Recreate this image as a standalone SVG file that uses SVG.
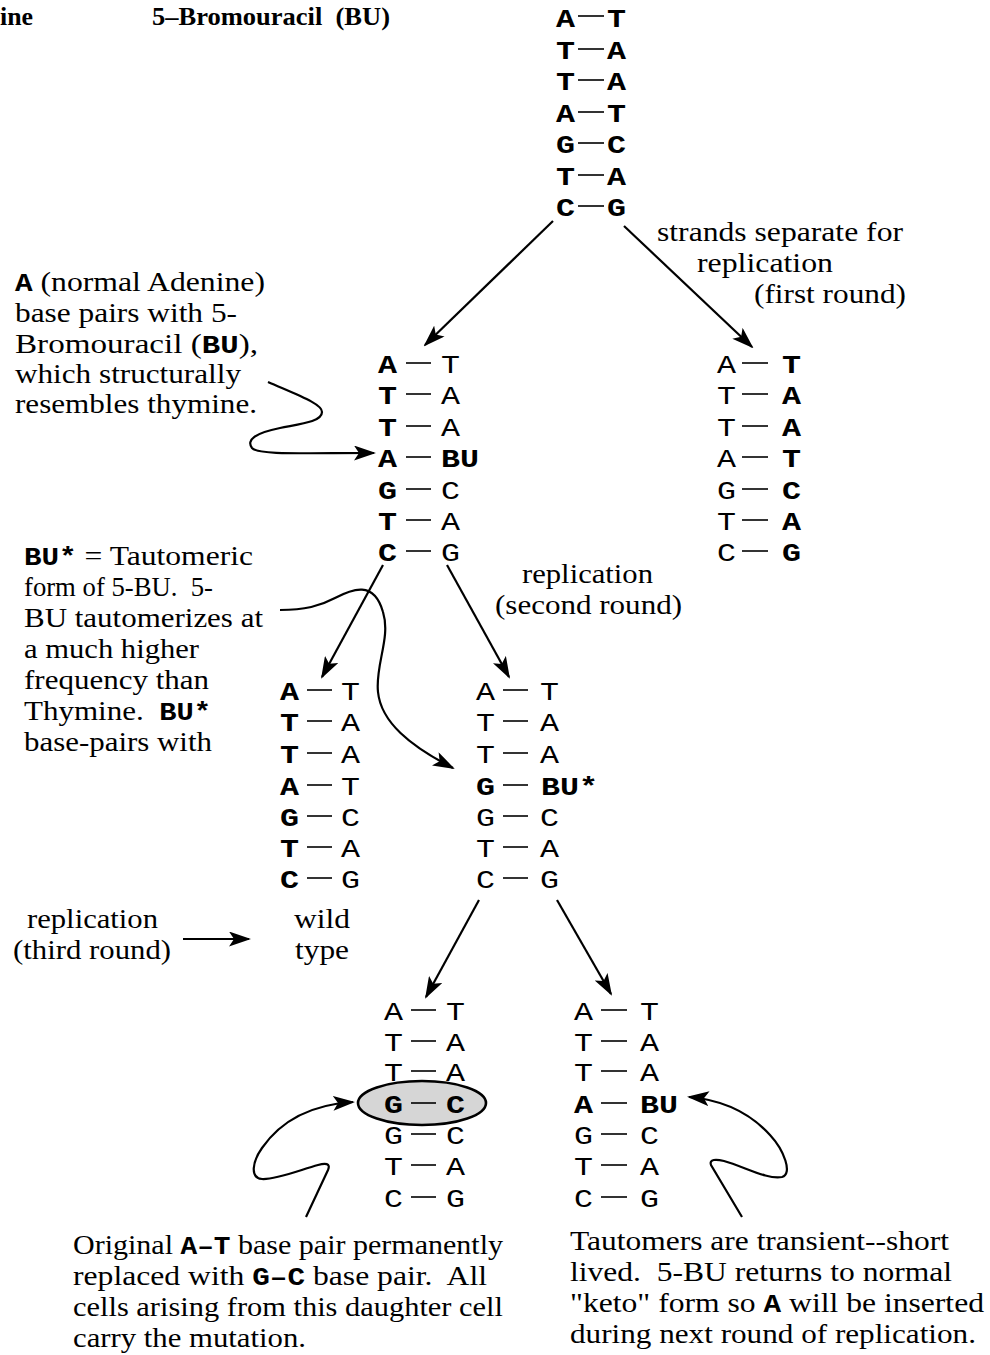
<svg xmlns="http://www.w3.org/2000/svg" width="990" height="1355" viewBox="0 0 990 1355">
  <style>
    .t { font-family: "Liberation Serif", "Times New Roman", serif; font-size: 27px; fill: #000; }
    .tb { font-family: "Liberation Serif", "Times New Roman", serif; font-size: 26px; font-weight: bold; fill: #000; }
    .m { font-family: "Liberation Mono", "Courier New", monospace; font-size: 25px; fill: #000; }
    .mb { font-family: "Liberation Mono", "Courier New", monospace; font-size: 25px; font-weight: bold; fill: #000; }
    .bond { stroke: #000; stroke-width: 1.6; }
    .arr { fill: none; stroke: #000; stroke-width: 2.2; marker-end: url(#ah); }
  </style>
  <defs>
    <marker id="ah" viewBox="0 0 22 15" refX="20" refY="7.5" markerWidth="22" markerHeight="15" markerUnits="userSpaceOnUse" orient="auto">
      <path d="M0,0 L22,7.5 L0,15 L5,7.5 Z" fill="#000"/>
    </marker>
  </defs>
  <rect width="990" height="1355" fill="#fff"/>

  <!-- headings -->
  <g id="headings">
    <text class="tb" x="0" y="25" textLength="33" lengthAdjust="spacingAndGlyphs">ine</text>
    <text class="tb" x="152" y="25" textLength="238" lengthAdjust="spacingAndGlyphs" xml:space="preserve">5–Bromouracil  (BU)</text>
  </g>

  <!-- parent duplex -->
  <g id="parent">
    <g class="mb">
      <text x="556" y="27" textLength="19" lengthAdjust="spacingAndGlyphs">A</text><text x="607" y="27" textLength="19" lengthAdjust="spacingAndGlyphs">T</text>
      <text x="556" y="59" textLength="19" lengthAdjust="spacingAndGlyphs">T</text><text x="607" y="59" textLength="19" lengthAdjust="spacingAndGlyphs">A</text>
      <text x="556" y="90" textLength="19" lengthAdjust="spacingAndGlyphs">T</text><text x="607" y="90" textLength="19" lengthAdjust="spacingAndGlyphs">A</text>
      <text x="556" y="122" textLength="19" lengthAdjust="spacingAndGlyphs">A</text><text x="607" y="122" textLength="19" lengthAdjust="spacingAndGlyphs">T</text>
      <text x="556" y="153" textLength="19" lengthAdjust="spacingAndGlyphs">G</text><text x="607" y="153" textLength="19" lengthAdjust="spacingAndGlyphs">C</text>
      <text x="556" y="185" textLength="19" lengthAdjust="spacingAndGlyphs">T</text><text x="607" y="185" textLength="19" lengthAdjust="spacingAndGlyphs">A</text>
      <text x="556" y="216" textLength="19" lengthAdjust="spacingAndGlyphs">C</text><text x="607" y="216" textLength="19" lengthAdjust="spacingAndGlyphs">G</text>
    </g>
    <g class="bond">
      <line x1="578" y1="16" x2="604" y2="16"/><line x1="578" y1="49" x2="604" y2="49"/>
      <line x1="578" y1="80" x2="604" y2="80"/><line x1="578" y1="112" x2="604" y2="112"/>
      <line x1="578" y1="143" x2="604" y2="143"/><line x1="578" y1="175" x2="604" y2="175"/>
      <line x1="578" y1="206" x2="604" y2="206"/>
    </g>
  </g>

  <!-- first-round daughter carrying BU -->
  <g id="daughter-bu">
    <g class="mb">
      <text x="378" y="373" textLength="19" lengthAdjust="spacingAndGlyphs">A</text>
      <text x="378" y="404" textLength="19" lengthAdjust="spacingAndGlyphs">T</text>
      <text x="378" y="436" textLength="19" lengthAdjust="spacingAndGlyphs">T</text>
      <text x="378" y="467" textLength="19" lengthAdjust="spacingAndGlyphs">A</text>
      <text x="378" y="499" textLength="19" lengthAdjust="spacingAndGlyphs">G</text>
      <text x="378" y="530" textLength="19" lengthAdjust="spacingAndGlyphs">T</text>
      <text x="378" y="561" textLength="19" lengthAdjust="spacingAndGlyphs">C</text>
      <text x="441" y="467" textLength="38" lengthAdjust="spacingAndGlyphs">BU</text>
    </g>
    <g class="m">
      <text x="441" y="373" textLength="19" lengthAdjust="spacingAndGlyphs">T</text>
      <text x="441" y="404" textLength="19" lengthAdjust="spacingAndGlyphs">A</text>
      <text x="441" y="436" textLength="19" lengthAdjust="spacingAndGlyphs">A</text>
      <text x="441" y="499" textLength="19" lengthAdjust="spacingAndGlyphs">C</text>
      <text x="441" y="530" textLength="19" lengthAdjust="spacingAndGlyphs">A</text>
      <text x="441" y="561" textLength="19" lengthAdjust="spacingAndGlyphs">G</text>
    </g>
    <g class="bond">
      <line x1="406" y1="363" x2="431" y2="363"/><line x1="406" y1="394" x2="431" y2="394"/>
      <line x1="406" y1="426" x2="431" y2="426"/><line x1="406" y1="457" x2="431" y2="457"/>
      <line x1="406" y1="489" x2="431" y2="489"/><line x1="406" y1="520" x2="431" y2="520"/>
      <line x1="406" y1="551" x2="431" y2="551"/>
    </g>
  </g>

  <!-- first-round normal daughter -->
  <g id="daughter-normal">
    <g class="m">
      <text x="717" y="373" textLength="19" lengthAdjust="spacingAndGlyphs">A</text>
      <text x="717" y="404" textLength="19" lengthAdjust="spacingAndGlyphs">T</text>
      <text x="717" y="436" textLength="19" lengthAdjust="spacingAndGlyphs">T</text>
      <text x="717" y="467" textLength="19" lengthAdjust="spacingAndGlyphs">A</text>
      <text x="717" y="499" textLength="19" lengthAdjust="spacingAndGlyphs">G</text>
      <text x="717" y="530" textLength="19" lengthAdjust="spacingAndGlyphs">T</text>
      <text x="717" y="561" textLength="19" lengthAdjust="spacingAndGlyphs">C</text>
    </g>
    <g class="mb">
      <text x="782" y="373" textLength="19" lengthAdjust="spacingAndGlyphs">T</text>
      <text x="782" y="404" textLength="19" lengthAdjust="spacingAndGlyphs">A</text>
      <text x="782" y="436" textLength="19" lengthAdjust="spacingAndGlyphs">A</text>
      <text x="782" y="467" textLength="19" lengthAdjust="spacingAndGlyphs">T</text>
      <text x="782" y="499" textLength="19" lengthAdjust="spacingAndGlyphs">C</text>
      <text x="782" y="530" textLength="19" lengthAdjust="spacingAndGlyphs">A</text>
      <text x="782" y="561" textLength="19" lengthAdjust="spacingAndGlyphs">G</text>
    </g>
    <g class="bond">
      <line x1="742" y1="363" x2="768" y2="363"/><line x1="742" y1="394" x2="768" y2="394"/>
      <line x1="742" y1="426" x2="768" y2="426"/><line x1="742" y1="457" x2="768" y2="457"/>
      <line x1="742" y1="489" x2="768" y2="489"/><line x1="742" y1="520" x2="768" y2="520"/>
      <line x1="742" y1="551" x2="768" y2="551"/>
    </g>
  </g>

  <!-- second round: wild type -->
  <g id="wild-type">
    <g class="mb">
      <text x="280" y="700" textLength="19" lengthAdjust="spacingAndGlyphs">A</text>
      <text x="280" y="731" textLength="19" lengthAdjust="spacingAndGlyphs">T</text>
      <text x="280" y="763" textLength="19" lengthAdjust="spacingAndGlyphs">T</text>
      <text x="280" y="795" textLength="19" lengthAdjust="spacingAndGlyphs">A</text>
      <text x="280" y="826" textLength="19" lengthAdjust="spacingAndGlyphs">G</text>
      <text x="280" y="857" textLength="19" lengthAdjust="spacingAndGlyphs">T</text>
      <text x="280" y="888" textLength="19" lengthAdjust="spacingAndGlyphs">C</text>
    </g>
    <g class="m">
      <text x="341" y="700" textLength="19" lengthAdjust="spacingAndGlyphs">T</text>
      <text x="341" y="731" textLength="19" lengthAdjust="spacingAndGlyphs">A</text>
      <text x="341" y="763" textLength="19" lengthAdjust="spacingAndGlyphs">A</text>
      <text x="341" y="795" textLength="19" lengthAdjust="spacingAndGlyphs">T</text>
      <text x="341" y="826" textLength="19" lengthAdjust="spacingAndGlyphs">C</text>
      <text x="341" y="857" textLength="19" lengthAdjust="spacingAndGlyphs">A</text>
      <text x="341" y="888" textLength="19" lengthAdjust="spacingAndGlyphs">G</text>
    </g>
    <g class="bond">
      <line x1="307" y1="690" x2="332" y2="690"/><line x1="307" y1="721" x2="332" y2="721"/>
      <line x1="307" y1="753" x2="332" y2="753"/><line x1="307" y1="785" x2="332" y2="785"/>
      <line x1="307" y1="816" x2="332" y2="816"/><line x1="307" y1="847" x2="332" y2="847"/>
      <line x1="307" y1="878" x2="332" y2="878"/>
    </g>
  </g>

  <!-- second round: tautomer mispair -->
  <g id="mispair">
    <g class="m">
      <text x="476" y="700" textLength="19" lengthAdjust="spacingAndGlyphs">A</text>
      <text x="476" y="731" textLength="19" lengthAdjust="spacingAndGlyphs">T</text>
      <text x="476" y="763" textLength="19" lengthAdjust="spacingAndGlyphs">T</text>
      <text x="476" y="826" textLength="19" lengthAdjust="spacingAndGlyphs">G</text>
      <text x="476" y="857" textLength="19" lengthAdjust="spacingAndGlyphs">T</text>
      <text x="476" y="888" textLength="19" lengthAdjust="spacingAndGlyphs">C</text>
      <text x="540" y="700" textLength="19" lengthAdjust="spacingAndGlyphs">T</text>
      <text x="540" y="731" textLength="19" lengthAdjust="spacingAndGlyphs">A</text>
      <text x="540" y="763" textLength="19" lengthAdjust="spacingAndGlyphs">A</text>
      <text x="540" y="826" textLength="19" lengthAdjust="spacingAndGlyphs">C</text>
      <text x="540" y="857" textLength="19" lengthAdjust="spacingAndGlyphs">A</text>
      <text x="540" y="888" textLength="19" lengthAdjust="spacingAndGlyphs">G</text>
    </g>
    <g class="mb">
      <text x="476" y="795" textLength="19" lengthAdjust="spacingAndGlyphs">G</text>
      <text x="541" y="795" textLength="57" lengthAdjust="spacingAndGlyphs">BU*</text>
    </g>
    <g class="bond">
      <line x1="503" y1="690" x2="528" y2="690"/><line x1="503" y1="721" x2="528" y2="721"/>
      <line x1="503" y1="753" x2="528" y2="753"/><line x1="503" y1="785" x2="528" y2="785"/>
      <line x1="503" y1="816" x2="528" y2="816"/><line x1="503" y1="847" x2="528" y2="847"/>
      <line x1="503" y1="878" x2="528" y2="878"/>
    </g>
  </g>

  <!-- third round: mutant G-C -->
  <g id="mutant">
    <g class="m">
      <text x="384" y="1020" textLength="19" lengthAdjust="spacingAndGlyphs">A</text>
      <text x="384" y="1051" textLength="19" lengthAdjust="spacingAndGlyphs">T</text>
      <text x="384" y="1081" textLength="19" lengthAdjust="spacingAndGlyphs">T</text>
      <text x="384" y="1144" textLength="19" lengthAdjust="spacingAndGlyphs">G</text>
      <text x="384" y="1175" textLength="19" lengthAdjust="spacingAndGlyphs">T</text>
      <text x="384" y="1207" textLength="19" lengthAdjust="spacingAndGlyphs">C</text>
      <text x="446" y="1020" textLength="19" lengthAdjust="spacingAndGlyphs">T</text>
      <text x="446" y="1051" textLength="19" lengthAdjust="spacingAndGlyphs">A</text>
      <text x="446" y="1081" textLength="19" lengthAdjust="spacingAndGlyphs">A</text>
      <text x="446" y="1144" textLength="19" lengthAdjust="spacingAndGlyphs">C</text>
      <text x="446" y="1175" textLength="19" lengthAdjust="spacingAndGlyphs">A</text>
      <text x="446" y="1207" textLength="19" lengthAdjust="spacingAndGlyphs">G</text>
    </g>
    <g class="bond">
      <line x1="411" y1="1010" x2="436" y2="1010"/><line x1="411" y1="1041" x2="436" y2="1041"/>
      <line x1="411" y1="1071" x2="436" y2="1071"/>
      <line x1="411" y1="1134" x2="436" y2="1134"/><line x1="411" y1="1165" x2="436" y2="1165"/>
      <line x1="411" y1="1197" x2="436" y2="1197"/>
    </g>
    <ellipse cx="422" cy="1103" rx="64" ry="22" fill="#d6d6d6" stroke="#000" stroke-width="2.6"/>
    <text class="mb" x="384" y="1113" textLength="19" lengthAdjust="spacingAndGlyphs">G</text>
    <text class="mb" x="446" y="1113" textLength="19" lengthAdjust="spacingAndGlyphs">C</text>
    <line class="bond" x1="411" y1="1103" x2="436" y2="1103"/>
  </g>

  <!-- third round: BU back in keto form -->
  <g id="reverted">
    <g class="m">
      <text x="574" y="1020" textLength="19" lengthAdjust="spacingAndGlyphs">A</text>
      <text x="574" y="1051" textLength="19" lengthAdjust="spacingAndGlyphs">T</text>
      <text x="574" y="1081" textLength="19" lengthAdjust="spacingAndGlyphs">T</text>
      <text x="574" y="1144" textLength="19" lengthAdjust="spacingAndGlyphs">G</text>
      <text x="574" y="1175" textLength="19" lengthAdjust="spacingAndGlyphs">T</text>
      <text x="574" y="1207" textLength="19" lengthAdjust="spacingAndGlyphs">C</text>
      <text x="640" y="1020" textLength="19" lengthAdjust="spacingAndGlyphs">T</text>
      <text x="640" y="1051" textLength="19" lengthAdjust="spacingAndGlyphs">A</text>
      <text x="640" y="1081" textLength="19" lengthAdjust="spacingAndGlyphs">A</text>
      <text x="640" y="1144" textLength="19" lengthAdjust="spacingAndGlyphs">C</text>
      <text x="640" y="1175" textLength="19" lengthAdjust="spacingAndGlyphs">A</text>
      <text x="640" y="1207" textLength="19" lengthAdjust="spacingAndGlyphs">G</text>
    </g>
    <g class="mb">
      <text x="574" y="1113" textLength="19" lengthAdjust="spacingAndGlyphs">A</text>
      <text x="640" y="1113" textLength="38" lengthAdjust="spacingAndGlyphs">BU</text>
    </g>
    <g class="bond">
      <line x1="601" y1="1010" x2="627" y2="1010"/><line x1="601" y1="1041" x2="627" y2="1041"/>
      <line x1="601" y1="1071" x2="627" y2="1071"/><line x1="601" y1="1103" x2="627" y2="1103"/>
      <line x1="601" y1="1134" x2="627" y2="1134"/><line x1="601" y1="1165" x2="627" y2="1165"/>
      <line x1="601" y1="1197" x2="627" y2="1197"/>
    </g>
  </g>

  <!-- annotations -->
  <g id="note-first-round">
    <text class="t" x="657" y="241" textLength="246" lengthAdjust="spacingAndGlyphs">strands separate for</text>
    <text class="t" x="697" y="272" textLength="136" lengthAdjust="spacingAndGlyphs">replication</text>
    <text class="t" x="754" y="303" textLength="152" lengthAdjust="spacingAndGlyphs">(first round)</text>
  </g>
  <g id="note-adenine">
    <text class="t" x="15" y="291" textLength="250" lengthAdjust="spacingAndGlyphs"><tspan class="mb">A</tspan> (normal Adenine)</text>
    <text class="t" x="15" y="322" textLength="222" lengthAdjust="spacingAndGlyphs">base pairs with 5-</text>
    <text class="t" x="15" y="353" textLength="243" lengthAdjust="spacingAndGlyphs">Bromouracil (<tspan class="mb">BU</tspan>),</text>
    <text class="t" x="15" y="383" textLength="226" lengthAdjust="spacingAndGlyphs">which structurally</text>
    <text class="t" x="15" y="413" textLength="242" lengthAdjust="spacingAndGlyphs">resembles thymine.</text>
  </g>
  <g id="note-tautomer">
    <text class="t" x="24" y="565" textLength="229" lengthAdjust="spacingAndGlyphs"><tspan class="mb">BU*</tspan> = Tautomeric</text>
    <text class="t" x="24" y="596" textLength="189" lengthAdjust="spacingAndGlyphs" xml:space="preserve">form of 5-BU.  5-</text>
    <text class="t" x="24" y="627" textLength="239" lengthAdjust="spacingAndGlyphs">BU tautomerizes at</text>
    <text class="t" x="24" y="658" textLength="175" lengthAdjust="spacingAndGlyphs">a much higher</text>
    <text class="t" x="24" y="689" textLength="185" lengthAdjust="spacingAndGlyphs">frequency than</text>
    <text class="t" x="24" y="720" textLength="187" lengthAdjust="spacingAndGlyphs" xml:space="preserve">Thymine.  <tspan class="mb">BU*</tspan></text>
    <text class="t" x="24" y="751" textLength="188" lengthAdjust="spacingAndGlyphs">base-pairs with</text>
  </g>
  <g id="note-second-round">
    <text class="t" x="522" y="583" textLength="131" lengthAdjust="spacingAndGlyphs">replication</text>
    <text class="t" x="495" y="614" textLength="187" lengthAdjust="spacingAndGlyphs">(second round)</text>
  </g>
  <g id="note-third-round">
    <text class="t" x="27" y="928" textLength="131" lengthAdjust="spacingAndGlyphs">replication</text>
    <text class="t" x="13" y="959" textLength="158" lengthAdjust="spacingAndGlyphs">(third round)</text>
  </g>
  <g id="note-wild-type">
    <text class="t" x="294" y="928" textLength="56" lengthAdjust="spacingAndGlyphs">wild</text>
    <text class="t" x="295" y="959" textLength="54" lengthAdjust="spacingAndGlyphs">type</text>
  </g>
  <g id="note-mutation">
    <text class="t" x="73" y="1254" textLength="430" lengthAdjust="spacingAndGlyphs">Original <tspan class="mb">A–T</tspan> base pair permanently</text>
    <text class="t" x="73" y="1285" textLength="414" lengthAdjust="spacingAndGlyphs" xml:space="preserve">replaced with <tspan class="mb">G–C</tspan> base pair.  All</text>
    <text class="t" x="73" y="1316" textLength="430" lengthAdjust="spacingAndGlyphs">cells arising from this daughter cell</text>
    <text class="t" x="73" y="1347" textLength="233" lengthAdjust="spacingAndGlyphs">carry the mutation.</text>
  </g>
  <g id="note-transient">
    <text class="t" x="570" y="1250" textLength="379" lengthAdjust="spacingAndGlyphs">Tautomers are transient--short</text>
    <text class="t" x="570" y="1281" textLength="382" lengthAdjust="spacingAndGlyphs" xml:space="preserve">lived.  5-BU returns to normal</text>
    <text class="t" x="570" y="1312" textLength="414" lengthAdjust="spacingAndGlyphs">"keto" form so <tspan class="mb">A</tspan> will be inserted</text>
    <text class="t" x="570" y="1343" textLength="406" lengthAdjust="spacingAndGlyphs">during next round of replication.</text>
  </g>

  <!-- connectors -->
  <g id="connectors">
    <line class="arr" x1="553" y1="221" x2="425" y2="345"/>
    <line class="arr" x1="624" y1="226" x2="752" y2="347"/>
    <line class="arr" x1="383" y1="565" x2="322" y2="677"/>
    <line class="arr" x1="447" y1="565" x2="509" y2="677"/>
    <line class="arr" x1="479" y1="900" x2="426" y2="997"/>
    <line class="arr" x1="557" y1="900" x2="611" y2="994"/>
    <line class="arr" x1="183" y1="939" x2="249" y2="939"/>
    <path class="arr" d="M268,382 C300,396 322,404 322,412 C322,422 300,424 280,428 C255,433 246,440 252,448 C258,455 300,453 374,453"/>
    <path class="arr" d="M280,610 C305,610 320,606 335,598 C352,589 374,580 383,612 C391,638 375,665 378,692 C381,722 410,746 453,768"/>
    <path class="arr" d="M306,1217 L328,1170 C331,1163 325,1163 318,1165 C300,1170 275,1180 262,1179 C250,1178 252,1162 262,1148 C278,1125 305,1105 353,1102"/>
    <path class="arr" d="M742,1217 L711,1165 C709,1159 716,1159 724,1161 C745,1167 768,1180 782,1177 C793,1174 784,1150 770,1135 C750,1113 725,1100 689,1097"/>
  </g>
</svg>
